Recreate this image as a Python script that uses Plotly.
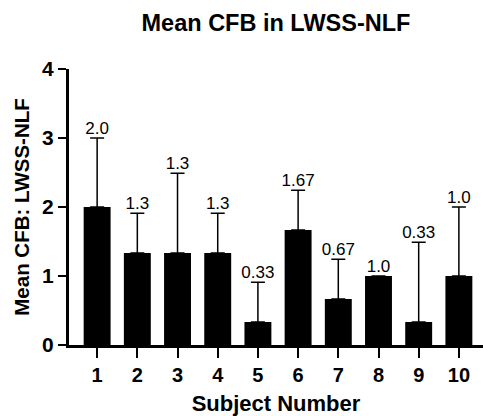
import plotly.graph_objects as go

subjects = [1, 2, 3, 4, 5, 6, 7, 8, 9, 10]
tick_labels = ["1", "2", "3", "4", "5", "6", "7", "8", "9", "10"]
means = [2.0, 1.333, 1.333, 1.333, 0.333, 1.667, 0.667, 1.0, 0.333, 1.0]
sds = [1.0, 0.577, 1.155, 0.577, 0.577, 0.577, 0.577, 0.0, 1.155, 1.0]
value_labels = ["2.0", "1.3", "1.3", "1.3", "0.33", "1.67", "0.67", "1.0", "0.33", "1.0"]
y_ticks = [0, 1, 2, 3, 4]

FONT = "Liberation Sans, Arial, Helvetica, sans-serif"

fig = go.Figure()
fig.add_trace(go.Bar(
    x=subjects, y=means, width=0.67,
    marker=dict(color="black", line=dict(width=0)),
    error_y=dict(type="data", array=sds, symmetric=False, arrayminus=[0]*len(sds),
                 color="black", thickness=1.5, width=7, visible=True),
    showlegend=False, hoverinfo="skip",
))
fig.add_trace(go.Scatter(
    x=subjects, y=[m + s for m, s in zip(means, sds)],
    mode="text", text=value_labels, textposition="top center",
    textfont=dict(family=FONT, size=17, color="black"),
    showlegend=False, hoverinfo="skip", cliponaxis=False,
))

fig.update_layout(
    width=483, height=416,
    margin=dict(l=69, r=0, t=69, b=71),
    paper_bgcolor="white", plot_bgcolor="white",
    font=dict(family=FONT, color="black"),
    title=dict(text="<b>Mean CFB in LWSS-NLF</b>", x=0.5, xref="paper",
               xanchor="center", y=1 - 23 / 416, yref="container", yanchor="middle",
               font=dict(size=23.5, family=FONT, color="black")),
)
fig.update_xaxes(
    range=[0.3, 10.6], tickmode="array", tickvals=subjects,
    ticktext=["<b>%s</b>" % t for t in tick_labels],
    showline=True, linecolor="black", linewidth=3, ticks="outside", ticklen=10,
    tickwidth=2, tickcolor="black", showgrid=False, zeroline=False,
    tickfont=dict(size=20, family=FONT, color="black"),
    title=dict(text="<b>Subject Number</b>", font=dict(size=22, family=FONT, color="black"), standoff=13),
)
fig.update_yaxes(
    range=[0, 4], tickmode="array", tickvals=y_ticks,
    ticktext=["<b>%d</b>" % v for v in y_ticks],
    showline=True, linecolor="black", linewidth=3, ticks="outside", ticklen=8,
    tickwidth=2, tickcolor="black", showgrid=False, zeroline=False,
    tickfont=dict(size=21, family=FONT, color="black"),
    title=dict(text="<b>Mean CFB: LWSS-NLF</b>", font=dict(size=20.5, family=FONT, color="black"), standoff=7),
)

fig.write_html("out.html", config={"displayModeBar": False},
               post_script="document.body.style.margin='0';document.body.style.overflow='hidden';")
